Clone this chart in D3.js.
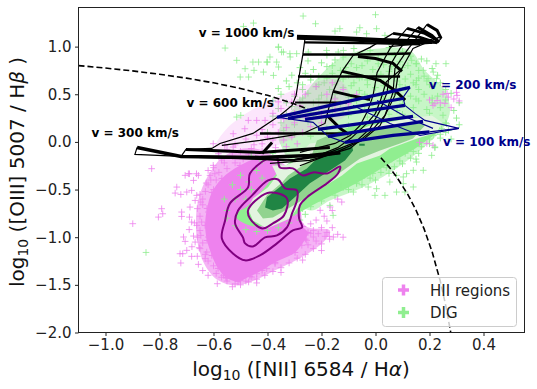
<!DOCTYPE html>
<html><head><meta charset="utf-8">
<script src="https://cdnjs.cloudflare.com/ajax/libs/d3/7.8.5/d3.min.js"></script>
<style>html,body{margin:0;padding:0;background:#fff}text{font-family:"DejaVu Sans",sans-serif}</style>
</head><body><svg id="c" width="537" height="389"></svg>
<script>
const xTicks=[-1,-0.8,-0.6,-0.4,-0.2,0,0.2,0.4];
const yTicks=[-2,-1.5,-1,-0.5,0,0.5,1];
const legendLabels=["HII regions","DIG"];
const pinkOutliers=[[-.899,-.858],[-.736,-.474],[-.742,-.537],[-.721,-.551],[-.699,-.526],[-.681,-.509],[-.705,-.351],[-.689,-.334],[-.656,-.351],[-.674,-.404],[-.627,-.432],[-.613,-.351],[-.662,-.561],[-.668,-.614],[-.647,-.631],[-.687,-.684],[-.792,-.701],[-.788,-.754],[-.804,-.789],[-.718,-.736],[-.718,-.782],[-.689,-.789],[-.681,-.841],[-.662,-.876],[-.644,-.841],[-.711,-.998],[-.705,-1.044],[-.674,-.988],[-.668,-1.051],[-.647,-.981],[-.724,-1.173],[-.714,-1.173],[-.699,-1.138],[-.681,-1.201],[-.653,-1.110],[-.631,-1.225],[-.721,-1.271],[-.656,-1.285],[-.625,-1.156],[-.586,-1.488],[-.600,-.823],[-.619,-.736],[-.607,-.911],[-.619,-.998],[-.594,-1.103],[-.563,-1.400],[-.502,-1.453],[-.458,-1.418],[-.440,-1.383],[-.403,-1.330],[-.372,-1.278],[-.156,-.998],[-.171,-.991],[-.187,-.991],[-.212,-.963],[-.230,-.998],[-.255,-1.033],[-.273,-1.085],[-.230,-.928],[-.125,-.631],[-.168,-.683],[-.205,-.718],[-.829,-.281],[-.693,-.334],[-.663,-.334],[-.601,-.019],[-.527,.086],[-.527,-.054],[-.471,.226],[-.440,.226],[-.409,.226],[-.484,.138],[-.558,-.037],[-.582,-.124],[-.601,-.246],[-.595,-.334],
[-.64,-.6],[-.66,-.7],[-.65,-.78],[-.67,-.85],[-.65,-.93],[-.66,-1],[-.64,-1.06],[-.65,-1.12],[-.63,-1.18],[-.62,-1.25],[-.6,-1.3],[-.6,-.5],[-.62,-.45],[-.59,-.4],[-.58,-.32],[-.55,-.28],[-.52,-.22],[-.49,-.18],[-.56,-.22],[-.6,-.27],[-.63,-.52],[-.64,-.66],
[-.59,-1.38],[-.57,-1.42],[-.55,-1.46],[-.52,-1.49],[-.5,-1.5],[-.47,-1.47],[-.44,-1.44],[-.41,-1.4],[-.38,-1.36],[-.35,-1.32],[-.32,-1.27],[-.29,-1.22],[-.26,-1.18],[-.23,-1.12],[-.2,-1.07],[-.17,-1.02],[-.25,-1.08],[-.22,-1.04],[-.18,-.95],[-.14,-.97],[-.2,-.9],[-.24,-.96],[-.55,-1.43],[-.48,-1.46],[-.14,-.6],[-.16,-.72],[-.19,-.78],[-.22,-.82],[-.24,-.86],
[-.46,-.07],[-.5,-.1],[-.52,-.03],[-.55,-.08],[-.58,-.15],[-.53,-.15],[-.47,-.13],[-.42,-.1],[-.62,-.3],[-.57,-.19],[-.61,-.4],[-.65,-.55],[-.69,-.92],[-.68,-1.1],[-.66,-1.2],[-.64,-1.35],[-.62,-1.4],[-.53,-1.52],[-.44,-1.48],[-.35,-1.37],[-.27,-1.24],[-.2,-1.14],[-.12,-1.0],[-.16,-.9],[-.18,-.83]];
const pinkOverGreen=[[-.44,.07],[-.48,.03],[-.42,-.02],[-.38,.02],[-.36,.1],[-.42,.13],[-.38,.18],[-.33,.15],[-.3,.2],[-.34,.24],[-.3,.3],[-.26,.26],[-.38,.3],[-.37,-.06],[-.33,-.05],[-.31,.05],[-.27,.1],[-.24,.16],[-.2,.2],[-.35,.35],[-.31,.42],[-.28,.38],[-.2,.3],[-.15,.34],[-.1,.4],[-.15,.45],[-.07,.5],[-.12,.55],[-.18,.5],[-.26,.5],[-.22,.58],[-.16,.62],[-.3,.5],[-.36,.42],[-.4,.05],[-.45,-.03],[-.34,.02],[-.29,-.02],
[.265,.508],[.302,.488],[.228,.435],[.257,.404],[.213,.383],[.29,.45],[.27,.47],[.24,.41],[.3,.52],[.31,.43],[.25,.5],[.22,.4],[.28,.36],[.2,.44],[.19,-.016],[.163,-.005],[.213,-.036]];
const greenOutliers=[[-.268,1.321],[0,1.335],[-.222,1.240],[-.132,1.188],[-.150,1.163],[-.058,1.198],[-.070,1.153],[-.033,1.135],[.004,1.188],[.035,1.118],[-.360,.995],[-.348,.943],[-.391,.891],[-.317,.926],[-.403,.838],[-.181,.960],[-.138,.943],[-.119,.960],[-.249,.943],[.224,.821],[.261,.821],[.214,.733],[.177,.751],[.226,.663],[.195,.663],[.152,.646],[.152,.821],[.134,.856],[.263,.191],[.245,.139],[.214,.069],[.220,-.053],[.208,-.141],[.177,-.298],[.140,-.298],[.103,-.368],[-.452,1.247],[-.489,1.212],[-.557,.985],[-.514,.856],[-.454,.838],[-.433,.838],[-.400,.838],[-.366,.838],[-.359,.995],[-.341,.943],[-.316,.891],[-.483,.768],[-.450,.751],[-.501,.681],[-.470,.681],[-.415,.733],[-.378,.698],[-.514,.261],[-.499,.279],[-.359,.786],[-.292,.926],[.152,-.211],[.140,-.473],[.103,-.438],[.078,-.526],[.035,-.561],[-.002,-.561],[.004,-.491],[-.027,-.473],[-.082,-.526],[-.070,-.438],[-.157,-.771],[-.169,-.666],[-.126,-.456],[.109,-.526],[.053,-.421],[.115,-.333],[.078,-.351],[-.85,-1.16]];
const greenDense=[[-.08,.98],[-.02,.96],[.05,.99],[.1,.95],[-.18,.91],[-.12,.89],[-.05,.92],[.01,.88],[.07,.91],[.13,.9],[.17,.87],[-.25,.85],[-.2,.83],[-.15,.86],[-.09,.82],[-.03,.85],[.03,.81],[.09,.84],[.15,.82],[.19,.85],[-.28,.78],[-.23,.76],[-.18,.79],[-.13,.75],[-.07,.78],[-.01,.76],[.05,.74],[.1,.78],[.16,.75],[.21,.77],[-.31,.7],[-.26,.72],[-.21,.69],[-.16,.72],[-.1,.7],[-.05,.68],[.02,.71],[.07,.68],[.13,.71],[.18,.69],[.23,.7],[-.33,.64],[-.29,.62],[-.24,.65],[-.19,.62],[-.14,.64],[-.08,.62],[-.03,.65],[.03,.62],[.08,.64],[.14,.62],[.19,.64],[.24,.62],[-.36,.56],[-.32,.58],[-.27,.55],[-.22,.58],[-.17,.55],[-.12,.57],[-.06,.54],[0,.57],[.05,.55],[.11,.57],[.16,.55],[.21,.58],[.26,.55],[-.35,.5],[-.3,.48],[-.25,.51],[-.2,.49],[-.15,.5],[-.1,.47],[-.04,.5],[.02,.48],[.07,.5],[.13,.48],[.18,.5],[.23,.48],[.28,.51],[-.38,.43],[-.33,.41],[-.28,.44],[-.23,.41],[-.18,.43],[-.13,.4],[-.07,.43],[-.01,.41],[.05,.43],[.1,.4],[.16,.43],[.21,.41],[.26,.44],[.31,.41],[-.36,.35],[-.31,.37],[-.26,.34],[-.21,.36],[-.16,.33],[-.1,.36],[-.04,.34],[.02,.36],[.08,.33],[.14,.36],[.19,.34],[.24,.36],[.29,.33],[-.38,.27],[-.33,.29],[-.28,.26],[-.23,.28],[-.17,.26],[-.1,.28],[-.03,.26],[.05,.29],[.25,.28],[.3,.25],[-.35,.2],[-.3,.18],[-.25,.21],[-.18,.14],[-.1,.17],[.26,.2],[.31,.18],[-.4,.1],[-.34,.12],[-.3,.08],[-.24,.06],[.27,.12],[.24,.08],
[-.16,.8],[-.11,.78],[-.05,.8],[.01,.82],[.06,.79],[.12,.8],[-.24,.68],[-.18,.67],[-.12,.66],[-.06,.67],[0,.66],[.05,.68],[.11,.66],[.16,.67],[-.27,.6],[-.21,.6],[-.15,.6],[-.09,.59],[-.03,.6],[.03,.59],[.09,.6],[.15,.6],[.2,.6],[-.27,.46],[-.21,.45],[-.15,.46],[-.09,.44],[-.03,.46],[.03,.45],[.09,.46],[.15,.45],[.21,.46],[-.24,.31],[-.12,.31],[0,.31],[.1,.29],[.2,.3],
[.26,.1],[.24,.04],[.2,-.02],[.17,-.05],[.2,.03],[.14,-.1],[.11,-.12],[.13,-.17],[.09,-.2],[.06,-.18],[.07,-.26],[.04,-.27],[.01,-.24],[.02,-.32],[-.01,-.33],[-.03,-.3],[-.02,-.38],[-.05,-.38],[-.08,-.36],[-.07,-.43],[-.1,-.43],[-.13,-.41],[-.12,-.48],[-.15,-.49],[-.18,-.47],[-.17,-.53],[-.2,-.55],[-.23,-.53],[-.22,-.6],[-.25,-.62],[-.28,-.6],[-.24,-.68],[-.27,-.7],[-.3,-.74],[-.26,-.76],[-.28,-.82],[-.32,-.85],[-.36,-.9],[-.4,-.93],[-.44,-.94],[-.48,-.92],[-.52,-.88],[-.55,-.8],[.1,-.23],[.05,-.33],[0,-.4],[-.05,-.45],[-.1,-.5],[.16,-.12],[.22,-.06],[.28,.03],[.15,-.18],[-.15,-.56],[-.2,-.62],
[-.55,-.72],[-.52,-.6],[-.5,-.5],[-.47,-.42],[-.5,-.35],[-.56,-.6],[-.44,-.3],[-.42,-.2],[-.53,-.45],[-.46,-.15],[-.38,-.12],[-.48,-.6],[-.5,-.75],[-.46,-.5],[-.42,-.38],[-.36,-.24]];
const pinkSolid=[[-.420,-.173],[-.502,-.247],[-.569,-.383],[-.606,-.530],[-.624,-.698],[-.631,-.876],[-.624,-1.034],[-.606,-1.191],[-.583,-1.327],[-.554,-1.422],[-.509,-1.464],[-.465,-1.411],[-.420,-1.348],[-.372,-1.264],[-.298,-1.160],[-.26,-1.02],[-.25,-.95],[-.269,-.887],[-.280,-.666],[-.335,-.299]];
const pinkWash=[[-.446,-.068],[-.557,-.142],[-.620,-.352],[-.657,-.614],[-.665,-.876],[-.657,-1.086],[-.631,-1.296],[-.583,-1.453],[-.520,-1.506],[-.446,-1.453],[-.372,-1.348],[-.280,-1.222],[-.187,-1.034],[-.169,-.929],[-.261,-.876],[-.317,-.299]];
const pinkUpperWash=[[-.391,.435],[-.131,.645],[-.094,.330],[-.280,.068],[-.428,-.089],[-.594,-.089],[-.557,.121]];
const greenWash=[[-.280,.435],[-.206,.698],[-.113,.908],[.017,.981],[.128,.960],[.183,.750],[.257,.540],[.276,.331],[.257,.173],[.165,-.089],[.054,-.320],[-.057,-.488],[-.169,-.614],[-.24,-.72],[-.3,-.6],[-.3,-.3],[-.34,-.1],[-.36,.1]];
const greenSolid=[[-.520,-.771],[-.465,-.876],[-.372,-.865],[-.287,-.749],[-.206,-.623],[-.113,-.497],[-.020,-.350],[.072,-.193],[.165,-.035],[.239,.153],[.183,.247],[.091,.247],[-.020,.205],[-.131,.121],[-.243,-.068],[-.354,-.299],[-.42,-.509],[-.472,-.666]];
const levelLight=[[-.472,-.698],[-.454,-.593],[-.398,-.477],[-.365,-.352],[-.383,-.247],[-.335,-.247],[-.306,-.215],[-.280,-.121],[-.243,-.016],[-.157,.016],[-.094,.089],[-.020,.173],[.128,.247],[.209,.278],[.246,.205],[.228,.100],[.154,.037],[.054,-.068],[.017,-.142],[-.069,-.226],[-.124,-.352],[-.243,-.561],[-.269,-.614],[-.317,-.803],[-.402,-.908],[-.454,-.824]];
const levelMid=[[-.439,-.719],[-.402,-.561],[-.346,-.425],[-.324,-.352],[-.243,-.194],[-.217,.016],[-.157,.089],[-.057,.121],[.072,.173],[.165,.226],[.183,.173],[.139,.037],[.091,-.016],[.017,-.089],[-.057,-.173],[-.131,-.320],[-.254,-.582],[-.335,-.719],[-.380,-.792],[-.417,-.803]];
const levelDark=[[-.409,-.687],[-.402,-.582],[-.346,-.456],[-.317,-.383],[-.254,-.278],[-.194,-.110],[-.131,-.068],[-.087,-.037],[-.083,-.089],[-.113,-.194],[-.169,-.299],[-.243,-.435],[-.291,-.561],[-.346,-.698],[-.380,-.719]];
const levelDarkBlip=[[-.06,-.02],[-.04,-.02],[-.04,-.04],[-.06,-.04]];
const hiiOuter=[[-.483,-1.243],[-.528,-1.170],[-.569,-1.013],[-.557,-.824],[-.539,-.645],[-.472,-.477],[-.465,-.331],[-.398,-.173],[-.365,-.163],[-.354,-.268],[-.306,-.278],[-.269,-.352],[-.231,-.320],[-.180,-.331],[-.131,-.257],[-.139,-.331],[-.180,-.435],[-.254,-.582],[-.280,-.666],[-.283,-.803],[-.272,-.897],[-.306,-.929],[-.365,-1.065],[-.428,-1.191]];
const hiiMiddle=[[-.454,-1.097],[-.483,-1.065],[-.491,-1.002],[-.520,-.855],[-.509,-.719],[-.457,-.561],[-.398,-.404],[-.361,-.394],[-.335,-.488],[-.291,-.509],[-.291,-.614],[-.309,-.750],[-.328,-.897],[-.365,-.981],[-.409,-1.002]];
const hiiInner=[[-.420,-.908],[-.465,-.803],[-.472,-.719],[-.435,-.593],[-.391,-.530],[-.328,-.593],[-.339,-.771],[-.380,-.855]];
const demarcLeftX=[-1.1,-1.0,-.9,-.8,-.7,-.6,-.5,-.4,-.3,-.25];
const demarcLeftY=[.801,.775,.745,.710,.669,.620,.561,.489,.398,.343];
const demarcRightX=[.02,.05,.08,.12,.15,.18,.21,.24,.26,.28];
const demarcRightY=[-.166,-.262,-.374,-.553,-.716,-.913,-1.156,-1.462,-1.715,-2.021];
const fastThick=[
[[-.291,1.097],[-.131,1.086],[.017,1.065],[.128,1.055],[.209,1.055]],
[[-.261,1.044],[.017,1.034],[.165,1.023]],
[[-.269,.918],[-.057,.918],[.128,.929]],
[[-.065,.897],[0,.876],[.065,.824],[.098,.740]],
[[-.287,.687],[.091,.687]],
[[-.124,.740],[-.057,.698],[.017,.645],[.072,.540],[.11,.44]],
[[-.157,.530],[-.094,.488],[-.020,.446]],
[[-.298,.414],[-.106,.414]],
[[-.428,.089],[-.120,.089]],
[[-.180,.278],[-.131,.142],[-.10,.08]],
[[-.383,-.005],[-.420,-.121]],
[[-.883,-.058],[-.720,-.152],[-.428,-.163],[-.243,-.142],[-.131,-.110]],
[[-.702,-.079],[-.428,-.110],[-.169,-.058]],
[[-.720,-.152],[-.30,-.19],[-.13,-.12]],
[[.065,1.139],[.165,1.097],[.228,1.04]],
[[.117,1.191],[.183,1.139],[.231,1.065]],
[[.157,1.202],[.209,1.118],[.235,1.044]],
[[.191,1.233],[.228,1.170],[.243,1.086]]];
const fastThin=[
[[-.261,1.086],[-.269,.918],[-.283,.687],[-.294,.488],[-.309,.383],[-.354,.278],[-.454,.089],[-.576,-.016],[-.606,-.068],[-.702,-.079],[-.720,-.152]],
[[-.883,-.058],[-.891,-.131],[-.720,-.152],[-.428,-.180],[-.33,-.20],[-.22,-.15],[-.14,-.06],[-.09,.04],[-.03,.2],[0,.3],[.02,.45],[.04,.63],[.09,.75]],
[[.065,1.139],[-.020,.992],[-.083,.908],[-.124,.740],[-.157,.530],[-.180,.278],[-.187,.194],[-.269,.089],[-.428,.016],[-.569,-.037]],
[[.117,1.191],[.054,.981],[.006,.729],[-.009,.488],[-.028,.331],[-.057,.173],[-.094,.068],[-.150,-.016],[-.280,-.110]],
[[.157,1.202],[.091,.981],[.054,.803],[.043,.519],[.017,.331],[-.020,.142],[-.076,-.005],[-.169,-.110],[-.317,-.194]],
[[.191,1.233],[.117,.960],[.072,.771],[.065,.519],[.035,.278],[-.013,.121],[-.094,-.068],[-.243,-.194],[-.391,-.226]],
[[.243,1.107],[.139,.981],[.083,.698],[.072,.488],[.017,.173],[-.050,.016],[-.131,-.089],[-.28,-.25]],
[[.191,1.233],[.228,1.170],[.243,1.086],[.228,1.04],[.128,1.02],[.05,1.0]]];
const slowThick=[
[[-.365,.258],[.128,.572]],
[[-.324,.247],[.102,.456]],
[[-.261,.236],[.109,.383]],
[[-.213,.131],[.139,.268]],
[[-.176,.058],[.176,.215]],
[[-.113,-.005],[.065,.068],[.20,.105]]];
const slowThin=[
[[.128,.572],[.102,.467],[.109,.383],[.146,.299],[.183,.226],[.309,.142]],
[[-.365,.258],[-.231,.205],[-.176,.058],[-.113,-.005]],
[[.309,.142],[.165,.068],[.054,.194],[-.083,.383]],
[[.20,.105],[.309,.142]],
[[.213,.142],[.117,.257],[.006,.435]]];
const notes=[["v = 1000 km/s",-.655,1.105,"#000"],["v = 600 km/s",-.70,.365,"#000"],["v = 300 km/s",-1.052,.05,"#000"],["v = 200 km/s",.198,.56,"#00008b"],["v = 100 km/s",.25,-.04,"#00008b"]];

const margin={l:78.5,r:524.5,t:7.5,b:332.5};
const x=d3.scaleLinear().domain([-1.1,0.55]).range([78.5,524]);
const y=d3.scaleLinear().domain([-2,1.4]).range([332.5,8.5]);
const svg=d3.select("#c");
const defs=svg.append("defs");
defs.append("clipPath").attr("id","plot").append("rect").attr("x",margin.l).attr("y",margin.t).attr("width",margin.r-margin.l).attr("height",margin.b-margin.t);
const root=svg.append("g").attr("clip-path","url(#plot)");
const area=d3.line().x(d=>x(d[0])).y(d=>y(d[1])).curve(d3.curveLinearClosed);
const blob=d3.line().x(d=>x(d[0])).y(d=>y(d[1])).curve(d3.curveCatmullRomClosed.alpha(.5));
const open=d3.line().x(d=>x(d[0])).y(d=>y(d[1]));
function crosses(data,color,op){
  root.append("g").selectAll("path").data(data).join("path")
   .attr("d",d=>`M${x(d[0])-3.3},${y(d[1])}h6.6M${x(d[0])},${y(d[1])-3.3}v6.6`)
   .attr("stroke",color).attr("stroke-width",1).attr("opacity",op).attr("fill","none");
}
root.append("path").attr("d",blob(pinkWash)).attr("fill","#ee82ee").attr("opacity",.6);
crosses(pinkOutliers,"#ee82ee",.8);
crosses(pinkSolid,"#ee82ee",1);
root.append("path").attr("d",blob(pinkSolid)).attr("fill","#ee82ee");
root.append("path").attr("d",blob(greenWash)).attr("fill","#90ee90").attr("opacity",.5);
crosses(greenDense,"#90ee90",.9);
root.append("path").attr("d",blob(pinkUpperWash)).attr("fill","#ee82ee").attr("opacity",.2);
root.append("path").attr("d",blob(greenSolid)).attr("fill","#90ee90");
crosses(pinkOverGreen,"#ee82ee",.8);
crosses(greenOutliers,"#90ee90",.8);
demarc(demarcLeftX,demarcLeftY);demarc(demarcRightX,demarcRightY);
function demarc(xs,ys){root.append("path").attr("d",open(xs.map((v,i)=>[v,ys[i]]))).attr("fill","none").attr("stroke","#000").attr("stroke-width",1.6).attr("stroke-dasharray","6,3");}
root.append("path").attr("d",area(levelLight)).attr("fill","#e3f4df");
root.append("path").attr("d",area(levelMid)).attr("fill","#92d38f");
root.append("path").attr("d",area(levelDark)).attr("fill","#208544");
root.append("path").attr("d",area(levelDarkBlip)).attr("fill","#208544");
[hiiOuter,hiiMiddle,hiiInner].forEach(c=>root.append("path").attr("d",blob(c)).attr("fill","none").attr("stroke","#800080").attr("stroke-width",2));
const fastW=[5,2.2,2.5,3,2.5,3,3,2,2.5,3,3,3.5,3,2,3,3,3,3];
const slowW=[3.2,3.2,3.2,3.2,3.2,3.2];
function lines(data,color,w){root.append("g").selectAll("path").data(data).join("path").attr("d",open).attr("fill","none").attr("stroke",color).attr("stroke-width",(d,i)=>typeof w==="number"?w:w[i]);}
lines(fastThin,"#000",1.2);
lines(fastThick,"#000",fastW);
lines(slowThin,"#00008b",1.1);
lines(slowThick,"#00008b",slowW);
const fmt=v=>v.toFixed(1).replace("-","\u2212");
const ax=svg.append("g").attr("transform",`translate(0,${margin.b})`).call(d3.axisBottom(x).tickValues(xTicks).tickFormat(fmt).tickSize(3.5).tickPadding(3.5));
const ay=svg.append("g").attr("transform",`translate(${margin.l},0)`).call(d3.axisLeft(y).tickValues(yTicks).tickFormat(fmt).tickSize(3.5).tickPadding(3.5));
[ax,ay].forEach(a=>{a.selectAll("text").attr("font-size",15).attr("fill","#222").style("font-family","DejaVu Sans");a.select(".domain").remove();a.selectAll("line").attr("stroke","#222");});
svg.append("rect").attr("x",margin.l).attr("y",margin.t).attr("width",margin.r-margin.l).attr("height",margin.b-margin.t).attr("fill","none").attr("stroke","#222").attr("stroke-width",1);
notes.forEach(n=>svg.append("text").attr("x",x(n[1])).attr("y",y(n[2])).attr("font-size",12).attr("font-weight","bold").attr("fill",n[3]).text(n[0]));
function mathLabel(t,top,ele,gr){
  t.attr("font-size",20).attr("fill","#111");
  t.append("tspan").text("log");
  t.append("tspan").attr("font-size",14).attr("dy",4).text("10");
  t.append("tspan").attr("dy",-4).text(top);
  t.append("tspan").attr("font-style","italic").text(gr);
  t.append("tspan").text(ele);
}
mathLabel(svg.append("text").attr("x",301).attr("y",376).attr("text-anchor","middle")," ([NII] 6584 / H",")","\u03b1");
mathLabel(svg.append("text").attr("transform","translate(24,172) rotate(-90)").attr("text-anchor","middle")," ([OIII] 5007 / H"," )","\u03b2");
const lg=svg.append("g");
lg.append("rect").attr("x",382.5).attr("y",277.5).attr("width",134).attr("height",49).attr("rx",3).attr("fill","#fff").attr("fill-opacity",.8).attr("stroke","#ccc");
legendLabels.forEach((l,i)=>{
  const cy=290+i*22.5,col=i?"#90ee90":"#ee82ee";
  lg.append("path").attr("d",`M398,${cy}h11M403.5,${cy-5.5}v11`).attr("stroke",col).attr("stroke-width",3.5);
  lg.append("text").attr("x",430).attr("y",cy+5.5).attr("font-size",15).attr("fill","#222").text(l);
});
</script></body></html>
